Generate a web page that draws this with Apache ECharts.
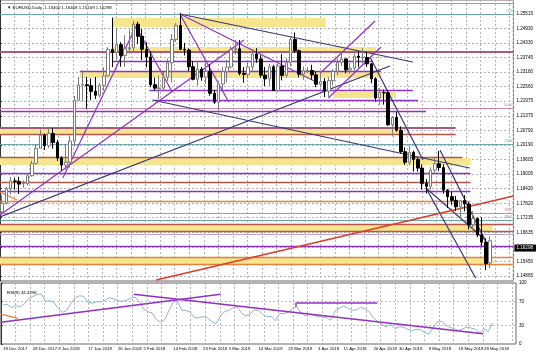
<!DOCTYPE html>
<html><head><meta charset="utf-8">
<script src="https://cdn.jsdelivr.net/npm/echarts@6.0.0/dist/echarts.min.js"></script>
<style>html,body{margin:0;padding:0;background:#fff}#c{width:536px;height:357px}</style>
</head><body><div id="c"></div>
<script>
// ---- data ----
const dates = [
'2017-12-18','2017-12-19','2017-12-20','2017-12-21','2017-12-22','2017-12-26','2017-12-27','2017-12-28','2017-12-29',
'2018-01-02','2018-01-03','2018-01-04','2018-01-05','2018-01-08','2018-01-09','2018-01-10','2018-01-11','2018-01-12',
'2018-01-15','2018-01-16','2018-01-17','2018-01-18','2018-01-19','2018-01-22','2018-01-23','2018-01-24','2018-01-25',
'2018-01-26','2018-01-29','2018-01-30','2018-01-31',
'2018-02-01','2018-02-02','2018-02-05','2018-02-06','2018-02-07','2018-02-08','2018-02-09','2018-02-12','2018-02-13',
'2018-02-14','2018-02-15','2018-02-16','2018-02-19','2018-02-20','2018-02-21','2018-02-22','2018-02-23','2018-02-26',
'2018-02-27','2018-02-28',
'2018-03-01','2018-03-02','2018-03-05','2018-03-06','2018-03-07','2018-03-08','2018-03-09','2018-03-12','2018-03-13',
'2018-03-14','2018-03-15','2018-03-16','2018-03-19','2018-03-20','2018-03-21','2018-03-22','2018-03-23','2018-03-26',
'2018-03-27','2018-03-28','2018-03-29','2018-03-30',
'2018-04-02','2018-04-03','2018-04-04','2018-04-05','2018-04-06','2018-04-09','2018-04-10','2018-04-11','2018-04-12',
'2018-04-13','2018-04-16','2018-04-17','2018-04-18','2018-04-19','2018-04-20','2018-04-23','2018-04-24','2018-04-25',
'2018-04-26','2018-04-27','2018-04-30',
'2018-05-01','2018-05-02','2018-05-03','2018-05-04','2018-05-07','2018-05-08','2018-05-09','2018-05-10','2018-05-11',
'2018-05-14','2018-05-15','2018-05-16','2018-05-17','2018-05-18','2018-05-21','2018-05-22','2018-05-23','2018-05-24',
'2018-05-25','2018-05-28','2018-05-29','2018-05-30'
];
// [open, high, low, close]
const ohlc = [
[1.1747,1.1815,1.1742,1.1782],[1.1782,1.1849,1.1777,1.1841],[1.1841,1.1890,1.1818,1.1873],[1.1873,1.1885,1.1838,1.1871],
[1.1871,1.1890,1.1820,1.1860],[1.1862,1.1875,1.1845,1.1862],[1.1862,1.1900,1.1855,1.1894],[1.1894,1.1955,1.1890,1.1944],
[1.1944,1.2023,1.1940,1.2005],
[1.2005,1.2081,1.2003,1.2059],[1.2059,1.2065,1.1999,1.2016],[1.2016,1.2089,1.2006,1.2066],[1.2066,1.2088,1.2004,1.2029],
[1.2029,1.2040,1.1954,1.1966],[1.1966,1.1973,1.1915,1.1937],[1.1937,1.2023,1.1918,1.1949],[1.1949,1.2058,1.1927,1.2035],
[1.2035,1.2218,1.2013,1.2201],[1.2201,1.2296,1.2197,1.2263],[1.2263,1.2323,1.2196,1.2264],[1.2264,1.2296,1.2166,1.2260],
[1.2260,1.2290,1.2201,1.2237],[1.2237,1.2296,1.2206,1.2221],[1.2221,1.2271,1.2212,1.2262],[1.2262,1.2335,1.2239,1.2300],
[1.2300,1.2416,1.2297,1.2408],[1.2408,1.2537,1.2336,1.2395],[1.2395,1.2494,1.2366,1.2427],[1.2427,1.2437,1.2337,1.2383],
[1.2383,1.2466,1.2336,1.2410],[1.2410,1.2487,1.2391,1.2414],
[1.2414,1.2523,1.2401,1.2510],[1.2510,1.2520,1.2430,1.2461],[1.2461,1.2491,1.2364,1.2408],[1.2408,1.2437,1.2335,1.2377],
[1.2377,1.2401,1.2254,1.2264],[1.2264,1.2293,1.2240,1.2250],[1.2250,1.2300,1.2206,1.2250],[1.2250,1.2317,1.2240,1.2294],
[1.2294,1.2370,1.2279,1.2353],[1.2353,1.2470,1.2273,1.2448],[1.2448,1.2514,1.2438,1.2505],[1.2505,1.2555,1.2404,1.2408],
[1.2408,1.2434,1.2383,1.2405],[1.2405,1.2412,1.2319,1.2337],[1.2337,1.2360,1.2282,1.2286],[1.2286,1.2355,1.2260,1.2327],
[1.2327,1.2336,1.2280,1.2295],[1.2295,1.2354,1.2267,1.2318],[1.2318,1.2348,1.2219,1.2229],[1.2229,1.2243,1.2186,1.2193],
[1.2193,1.2273,1.2155,1.2267],[1.2267,1.2336,1.2243,1.2317],[1.2317,1.2365,1.2273,1.2336],[1.2336,1.2420,1.2330,1.2406],
[1.2406,1.2446,1.2387,1.2410],[1.2410,1.2446,1.2302,1.2310],[1.2310,1.2336,1.2272,1.2306],[1.2306,1.2355,1.2290,1.2336],
[1.2336,1.2409,1.2318,1.2389],[1.2389,1.2413,1.2353,1.2369],[1.2369,1.2384,1.2292,1.2303],[1.2303,1.2336,1.2259,1.2288],
[1.2288,1.2349,1.2261,1.2337],[1.2337,1.2345,1.2240,1.2240],[1.2240,1.2348,1.2234,1.2340],[1.2340,1.2388,1.2282,1.2302],
[1.2302,1.2372,1.2293,1.2354],[1.2354,1.2456,1.2339,1.2448],[1.2448,1.2476,1.2393,1.2402],[1.2402,1.2407,1.2294,1.2307],
[1.2307,1.2338,1.2284,1.2320],[1.2320,1.2336,1.2313,1.2322],
[1.2322,1.2345,1.2285,1.2304],[1.2304,1.2318,1.2254,1.2266],[1.2266,1.2319,1.2253,1.2277],[1.2277,1.2291,1.2214,1.2238],
[1.2238,1.2294,1.2215,1.2281],[1.2281,1.2327,1.2261,1.2318],[1.2318,1.2370,1.2303,1.2354],[1.2354,1.2396,1.2340,1.2369],
[1.2369,1.2370,1.2310,1.2324],[1.2324,1.2354,1.2309,1.2331],[1.2331,1.2392,1.2321,1.2380],[1.2380,1.2399,1.2335,1.2375],
[1.2375,1.2413,1.2350,1.2375],[1.2375,1.2398,1.2336,1.2349],[1.2349,1.2352,1.2270,1.2288],[1.2288,1.2294,1.2195,1.2210],
[1.2210,1.2250,1.2183,1.2232],[1.2232,1.2245,1.2183,1.2231],[1.2231,1.2240,1.2096,1.2101],[1.2101,1.2136,1.2054,1.2131],
[1.2131,1.2153,1.2073,1.2079],
[1.2079,1.2095,1.1984,1.1992],[1.1992,1.2009,1.1938,1.1949],[1.1949,1.2014,1.1938,1.1989],[1.1989,1.1996,1.1911,1.1960],
[1.1960,1.1966,1.1911,1.1925],[1.1925,1.1940,1.1838,1.1863],[1.1863,1.1880,1.1822,1.1851],[1.1851,1.1928,1.1838,1.1917],
[1.1917,1.1971,1.1907,1.1943],[1.1943,1.1995,1.1913,1.1927],[1.1927,1.1941,1.1821,1.1836],[1.1836,1.1839,1.1763,1.1809],
[1.1809,1.1829,1.1777,1.1794],[1.1794,1.1812,1.1750,1.1768],[1.1768,1.1796,1.1717,1.1793],[1.1793,1.1815,1.1749,1.1779],
[1.1779,1.1787,1.1676,1.1695],[1.1695,1.1750,1.1676,1.1720],[1.1720,1.1724,1.1645,1.1653],[1.1653,1.1726,1.1609,1.1624],
[1.1624,1.1640,1.1510,1.1537],[1.1540,1.16468,1.15169,1.16298]
];
const rsi = [
64,65,60,63,61,66,74,78,81,82, 70,71,68,58,52,55,67,76,79,78, 68,67,69,69,72,76,74,71,70,72,
75,77,69,58,53,51,40,36,40,55, 69,70,55,55,52,43,43,45,43,37, 33,45,53,55,59,61,51,46,49,56,
55,48,45,45,38,50,50,52,58,61, 51,46,49,47,45,44,43,39,54,59, 62,59,55,56,60,58,53,43,37,32,
28,32,25,28,28,24,22,24,24,19, 16,26,36,37,31,27,25,22,25,28, 26,24,18,25,20,34.43
];
const priceTicks = [1.25515,1.24930,1.24330,1.23745,1.23160,1.22560,1.21975,1.21375,1.20790,1.20190,
  1.19605,1.19005,1.18420,1.17820,1.17235,1.16635,1.16050,1.15450,1.14865];
const rsiTicks = [0,30,70,100];
const dateLabels = {'2017-12-18':'18 Dec 2017','2017-12-28':'28 Dec 2017','2018-01-08':'8 Jan 2018',
 '2018-01-17':'17 Jan 2018','2018-01-26':'26 Jan 2018','2018-02-05':'5 Feb 2018','2018-02-14':'14 Feb 2018',
 '2018-02-23':'23 Feb 2018','2018-03-05':'5 Mar 2018','2018-03-14':'14 Mar 2018','2018-03-23':'23 Mar 2018',
 '2018-04-03':'3 Apr 2018','2018-04-11':'11 Apr 2018','2018-04-20':'20 Apr 2018','2018-04-30':'30 Apr 2018',
 '2018-05-09':'9 May 2018','2018-05-18':'18 May 2018','2018-05-28':'28 May 2018'};
const lastPrice = 1.16298;
const titleText = 'EURUSD,Daily  1.15400 1.16468 1.15169 1.16298';
const rsiTitle = 'RSI(9) 34.4296';
// annotation objects, x in bar slots (slot k = k-th bar cell), y in price
const purpleLevels = [[26.5,87.9,1.23604],[18.8,89.8,1.23198],[35.2,97.3,1.22426],[36.4,98.5,1.22019],
  [0,100.4,1.21572],[0,110.9,1.19052],[0,110.9,1.18320],[0,121,1.16084]];
const roseLevels = [[0,121,1.23970],[0,107.4,1.20881]];
const brownLevels = [[0,107.4,1.20637],[0,109.0,1.19702],[0,110.9,1.18686],[0,121,1.16978],[0,121,1.16694]];
const orangeLevels = [[0,110.9,1.17913],[0,121,1.15637],[0,121,1.15352]];
const lilacLevels = [[0,121,1.16571]];
const zones = [[26.5,76.7,1.24987,1.25352],[26.5,88.6,1.23970,1.24174],[18.8,89.8,1.22913,1.23198],
  [78.6,93.3,1.22101,1.22344],[0,94.3,1.20637,1.20881],[0,110.9,1.19377,1.19661],
  [0,116.1,1.16694,1.16978],[0,116.1,1.15352,1.15637]];
const fibPink = [[1.25962,'61.8'],[1.21694,'50.0'],[1.17426,'38.2']];
const fibTeal = [[1.25515,'0.0'],[1.20231,'23.6'],[1.17141,'38.2']];
const navyTrends = [[0,1.17263,91.9,1.23401],[42.4,1.25515,97.3,1.23564],[35.9,1.22019,110.7,1.19255],
  [87.2,1.23767,99.7,1.19580],[103.7,1.19987,114.9,1.16124],[100.4,1.18442,114.4,1.16328],[100.4,1.18442,112.1,1.14783]];
const purpleTrends = [[0,1.17344,57.5,1.24458],[14.8,1.18849,32.1,1.25027],[32.1,1.24987,40.6,1.22344],
  [42.4,1.25515,53.9,1.21938],[42.4,1.25515,75.0,1.22710],[75.5,1.23117,88.4,1.25230],[77.4,1.22101,89.8,1.24174]];
const redTrends = [[36.8,1.14702,121,1.18117]];
const orangeTrends = [[0,1.18279,4.0,1.17954]];
const rsiPurple = [[0,35.6,51.6,81.4],[31.2,81.4,113.3,17],[69.2,67,88.4,67],[69.2,67,69.2,61]];
const rsiOrange = [[0,49,4.0,42]];

// ---- chart ----
const cats = dates.concat(['e1','e2','e3','e4','e5']);
const nSlots = cats.length;
const FONT = 'Liberation Sans, Arial, sans-serif';
const gridLine = {type:[2,2], color:'#b4b4b4', width:1};
const hl = a => a.map(r => ({coords:[[r[0], r[2]], [r[1], r[2]]]}));
const seg = a => a.map(r => ({coords:[[r[0], r[1]], [r[2], r[3]]]}));
function lines(data, color, width, xi, yi, z) {
  return {type:'lines', coordinateSystem:'cartesian2d', xAxisIndex:xi, yAxisIndex:yi, data:data,
    silent:true, z:z, polyline:false, lineStyle:{color:color, width:width, opacity:1}};
}
function fib(list, color) {
  const s = lines(list.map(f => ({name:f[1], coords:[[0,f[0]],[nSlots,f[0]]]})), color, 1, 2, 0, 2);
  s.label = {show:true, position:'insideEndTop', formatter:'{b}', fontSize:4.2, color:color, distance:1, fontFamily:FONT};
  return s;
}
const hiddenCat = (gi, extra) => Object.assign({type:'category', gridIndex:gi, data:cats, boundaryGap:true,
  axisLine:{show:false}, axisTick:{show:false}, axisLabel:{show:false}, splitLine:{show:false}}, extra||{});
const slotAxis = gi => ({type:'value', gridIndex:gi, min:0, max:nSlots, interval:nSlots/35.27,
  axisLine:{show:false}, axisTick:{show:false}, axisLabel:{show:false}, splitLine:{show:true, lineStyle:gridLine}});

const chart = echarts.init(document.getElementById('c'));
chart.setOption({
  animation:false,
  backgroundColor:'#ffffff',
  title:[
    {text:'\u25BC '+titleText, left:2, top:1, textStyle:{fontSize:4.4, fontWeight:'normal', color:'#000', fontFamily:FONT}},
    {text:rsiTitle, left:2, top:286, textStyle:{fontSize:4.4, fontWeight:'normal', color:'#000', fontFamily:FONT}}
  ],
  grid:[
    {left:0, top:0, width:516, height:281, show:true, borderColor:'#666', borderWidth:1},
    {left:0, top:283, width:516, height:61, show:true, borderColor:'#666', borderWidth:1}
  ],
  xAxis:[
    hiddenCat(0),
    hiddenCat(1, {axisLabel:{show:true, interval:(i, v) => v in dateLabels, formatter:v => dateLabels[v] || '',
      fontSize:4.3, color:'#000', align:'left', margin:3, fontFamily:FONT}}),
    slotAxis(0), slotAxis(1)
  ],
  yAxis:[
    {type:'value', gridIndex:0, position:'right', min:1.146615, max:1.260841,
     axisLine:{show:true, lineStyle:{color:'#333', width:1}},
     axisTick:{show:true, customValues:priceTicks, length:2, lineStyle:{color:'#333'}},
     axisLabel:{customValues:priceTicks, formatter:v => v.toFixed(5), fontSize:4.6, color:'#000', margin:3, fontFamily:FONT},
     splitLine:{show:true, lineStyle:gridLine}},
    {type:'value', gridIndex:1, position:'right', min:0, max:100,
     axisLine:{show:true, lineStyle:{color:'#333', width:1}},
     axisTick:{show:true, customValues:rsiTicks, length:2, lineStyle:{color:'#333'}},
     axisLabel:{customValues:rsiTicks, fontSize:4.6, color:'#000', margin:3, fontFamily:FONT},
     splitLine:{show:true, lineStyle:gridLine}}
  ],
  series:[
    {type:'custom', xAxisIndex:2, yAxisIndex:0, data:zones, silent:true, z:1, encode:{x:[0,1], y:[2,3]},
     renderItem:(p, api) => {
       const a = api.coord([api.value(0), api.value(3)]);
       const b = api.coord([api.value(1), api.value(2)]);
       return {type:'rect', shape:{x:a[0], y:a[1], width:b[0]-a[0], height:b[1]-a[1]}, style:{fill:'#f4e58e'}};
     }},
    fib(fibPink, '#c98aa6'),
    fib(fibTeal, '#6fa6ae'),
    lines(hl(lilacLevels), '#b9a6d2', 1, 2, 0, 2),
    lines(hl(brownLevels), '#b5584a', 1.3, 2, 0, 2),
    lines(hl(orangeLevels), '#e5813f', 1.3, 2, 0, 2),
    lines(hl(roseLevels), '#a85a7c', 1.8, 2, 0, 2),
    lines(hl(purpleLevels), '#8f30c6', 1.4, 2, 0, 3),
    lines(seg(navyTrends), '#37377a', 1.2, 2, 0, 3),
    lines(seg(purpleTrends), '#8f30c6', 1.2, 2, 0, 3),
    lines(seg(redTrends), '#dd3a2a', 1.3, 2, 0, 3),
    lines(seg(orangeTrends), '#e5813f', 1.2, 2, 0, 3),
    {type:'candlestick', xAxisIndex:0, yAxisIndex:0, z:5, barWidth:3,
     data:ohlc.map(d => [d[0], d[3], d[2], d[1]]),
     itemStyle:{color:'#ffffff', color0:'#000000', borderColor:'#7a7a7a', borderColor0:'#000000', borderWidth:1},
     markLine:{silent:true, symbol:'none', animation:false, data:[{yAxis:lastPrice}],
       lineStyle:{color:'rgba(0,0,0,0)', width:0},
       label:{show:true, position:'end', formatter:lastPrice.toFixed(5), backgroundColor:'#000', color:'#fff',
         fontSize:4.6, padding:[1,3,1,2], distance:1, fontFamily:FONT}}},
    {type:'line', xAxisIndex:1, yAxisIndex:1, data:rsi, showSymbol:false, symbol:'none', z:4,
     lineStyle:{color:'#93b5cd', width:1}},
    lines(seg(rsiPurple), '#8f30c6', 1.5, 3, 1, 5),
    lines(seg(rsiOrange), '#e5813f', 1.2, 3, 1, 5)
  ]
});
</script>
</body></html>
